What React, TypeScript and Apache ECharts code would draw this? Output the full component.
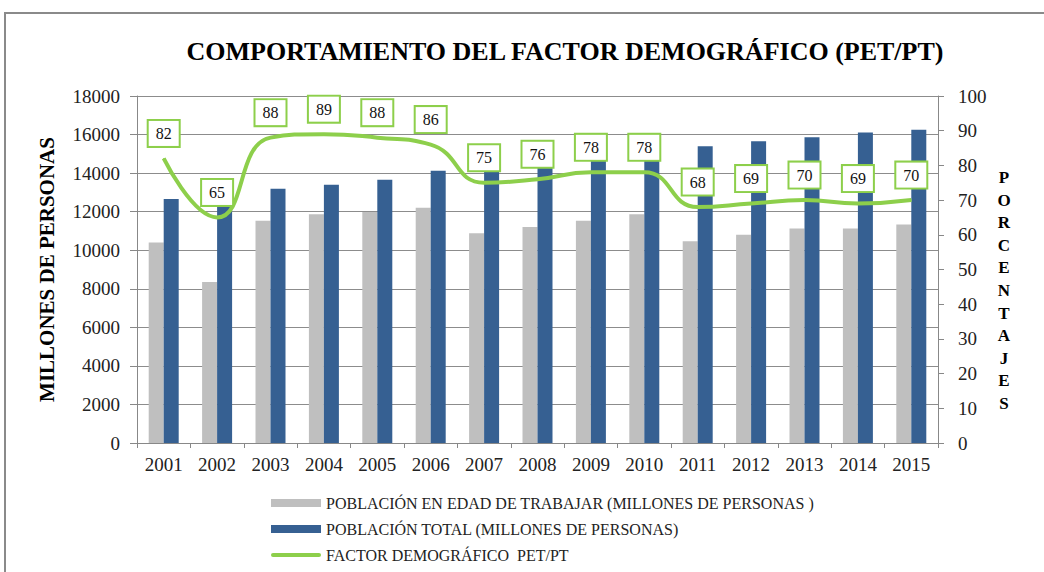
import React, { useEffect, useRef } from "react";
import * as echarts from "echarts";

const years = ["2001","2002","2003","2004","2005","2006","2007","2008","2009","2010","2011","2012","2013","2014","2015"];
const pet = [10400, 8350, 11530, 11860, 11980, 12200, 10880, 11200, 11530, 11860, 10460, 10800, 11130, 11130, 11340];
const pt = [12660, 12400, 13190, 13400, 13660, 14120, 14400, 14600, 14800, 15000, 15390, 15650, 15860, 16110, 16250];
const factor = [82, 65, 88, 89, 88, 86, 75, 76, 78, 78, 68, 69, 70, 69, 70];

const nameGray = "POBLACIÓN EN EDAD DE TRABAJAR (MILLONES DE PERSONAS )";
const nameBlue = "POBLACIÓN TOTAL (MILLONES DE PERSONAS)";
const nameLine = "FACTOR DEMOGRÁFICO  PET/PT";
const titleText = "COMPORTAMIENTO DEL FACTOR DEMOGRÁFICO (PET/PT)";
const rightName = "PORCENTAJES";

const SERIF = "Liberation Serif, DejaVu Serif, serif";
const GREEN = "#8DCF4B";

export default function App() {
  const ref = useRef<HTMLDivElement>(null);
  useEffect(() => {
    if (!ref.current) return;
    const chart = echarts.init(ref.current, null, { renderer: "svg" });
    const letters = rightName.split("").map((ch, i) => ({
      type: "text",
      x: 1004,
      y: 169 + i * 22.6,
      style: {
        text: ch,
        fontFamily: SERIF,
        fontSize: 17,
        fontWeight: "bold",
        fill: "#000",
        align: "center",
      },
    }));
    chart.setOption({
      animation: false,
      grid: { left: 137, right: 106, top: 96, bottom: 129 },
      graphic: [
        {
          type: "rect",
          shape: { x: 5, y: 13, width: 1200, height: 700 },
          style: { fill: "none", stroke: "#8a8a8a", lineWidth: 2 },
          silent: true,
        },
        {
          type: "text",
          x: 565,
          y: 38,
          style: {
            text: titleText,
            fontFamily: SERIF,
            fontSize: 26,
            fontWeight: "bold",
            fill: "#000",
            align: "center",
          },
        },
        ...letters,
      ],
      legend: {
        orient: "vertical",
        left: 266,
        top: 490,
        itemWidth: 50,
        itemHeight: 8,
        itemGap: 10,
        textStyle: { fontFamily: SERIF, fontSize: 16, color: "#222" },
        data: [
          { name: nameGray, icon: "rect" },
          { name: nameBlue, icon: "rect" },
          { name: nameLine, icon: "path://M2,0 L48,0 A2,2 0 0 1 48,4 L2,4 A2,2 0 0 1 2,0 Z" },
        ],
      },
      xAxis: {
        type: "category",
        data: years,
        axisLine: { lineStyle: { color: "#888", width: 1 } },
        axisTick: { show: true, length: 5, lineStyle: { color: "#888" } },
        axisLabel: { fontFamily: SERIF, fontSize: 19, color: "#222", margin: 12 },
      },
      yAxis: [
        {
          type: "value",
          min: 0,
          max: 18000,
          interval: 2000,
          name: "MILLONES DE PERSONAS",
          nameLocation: "middle",
          nameRotate: 90,
          nameGap: 80,
          nameTextStyle: { fontFamily: SERIF, fontSize: 21, fontWeight: "bold", color: "#000" },
          axisLine: { show: true, lineStyle: { color: "#888" } },
          axisTick: { show: true, length: 7, lineStyle: { color: "#888" } },
          axisLabel: {
            fontFamily: SERIF,
            fontSize: 19,
            color: "#222",
            margin: 17,
            formatter: (v: number) => String(v),
          },
          splitLine: { show: true, lineStyle: { color: "#8c8c8c", width: 1 } },
        },
        {
          type: "value",
          min: 0,
          max: 100,
          interval: 10,
          position: "right",
          axisLine: { show: true, lineStyle: { color: "#888" } },
          axisTick: { show: true, length: 6, lineStyle: { color: "#888" } },
          axisLabel: { fontFamily: SERIF, fontSize: 19, color: "#222", margin: 20 },
          splitLine: { show: false },
        },
      ],
      series: [
        {
          name: nameGray,
          type: "bar",
          data: pet,
          barWidth: 15,
          barGap: "0%",
          itemStyle: { color: "#BFBFBF" },
        },
        {
          name: nameBlue,
          type: "bar",
          data: pt,
          barWidth: 15,
          itemStyle: { color: "#366092" },
        },
        {
          name: nameLine,
          type: "line",
          yAxisIndex: 1,
          data: factor,
          smooth: 0.5,
          symbol: "circle",
          symbolSize: 1,
          showSymbol: true,
          lineStyle: { color: GREEN, width: 4 },
          itemStyle: { color: GREEN },
          label: {
            show: true,
            position: "top",
            distance: 12,
            fontFamily: SERIF,
            fontSize: 16,
            color: "#111",
            backgroundColor: "#fff",
            borderColor: GREEN,
            borderWidth: 2,
            padding: [4, 7],
            lineHeight: 17,
          },
          z: 5,
        },
      ],
    });
    return () => chart.dispose();
  }, []);
  return (
    <div
      ref={ref}
      style={{ position: "fixed", left: 0, top: 0, width: 1044, height: 572, background: "#fff" }}
    />
  );
}
